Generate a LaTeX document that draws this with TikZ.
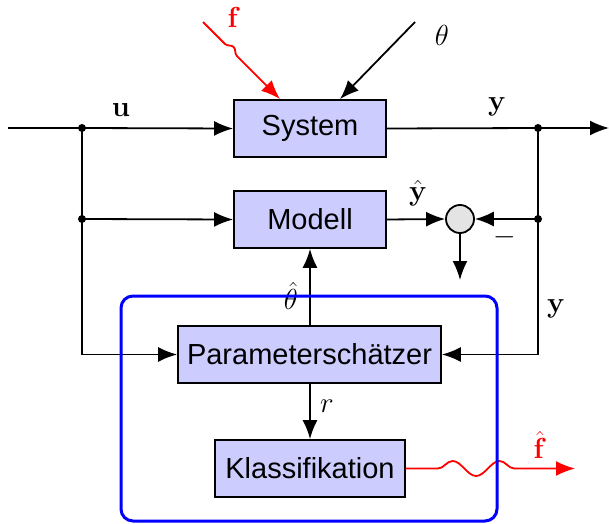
\documentclass[tikz,border=0pt]{standalone}
\usepackage{fix-cm}
\usepackage[no-math]{fontspec}
\setmainfont{Liberation Sans}
\usetikzlibrary{arrows.meta,decorations.pathmorphing,calc}
\definecolor{boxfill}{RGB}{204,204,255}
\definecolor{sumfill}{RGB}{228,228,228}
\begin{document}
\begin{tikzpicture}[x=1pt,y=1pt,
  blk/.style={draw,line width=1.8pt,fill=boxfill,minimum height=57pt,inner sep=0pt,font=\fontsize{29}{33}\selectfont},
  conn/.style={line width=1.8pt},
  arr/.style={conn,-{Latex[length=19pt,width=15pt]}},
  dotn/.style={circle,fill,inner sep=0pt,minimum size=8pt},
  lbl/.style={font=\fontsize{29}{34}\selectfont,inner sep=1pt},
  wig/.style={red,line width=1.8pt,decorate}]
\useasboundingbox (0,0) rectangle (609,523);
% blocks
\node[blk,minimum width=152pt] (sys) at (310,394.5) {System};
\node[blk,minimum width=152pt] (mod) at (310,303.5) {Modell};
\node[blk,minimum width=263pt] (par) at (309.5,168.5) {Parameterschätzer};
\node[blk,minimum width=190pt] (kla) at (310,54.5) {Klassifikation};
\node[circle,draw,line width=1.8pt,fill=sumfill,minimum size=28pt,inner sep=0pt] (sum) at (460,304) {};
% points
\coordinate (in) at (8,395);
\node[dotn] (d1) at (82,395) {};
\node[dotn] (d2) at (82,304) {};
\node[dotn] (d3) at (538,395) {};
\node[dotn] (d4) at (538,304) {};
\coordinate (out) at (609,395);
\coordinate (sumout) at (460,243);
\coordinate (fs) at (203,501);
\coordinate (ts) at (415,501);
\coordinate (fhat) at (575,54.5);
% connectors
\draw[conn] (in) -- (d1.center);
\draw[arr] (d1.center) -- (sys.west);
\draw[conn] (d1.center) -- (d2.center);
\draw[arr] (d2.center) -- (mod.west);
\draw[arr] (d2.center) |- (par.west);
\draw[conn] (sys.east) -- (d3.center);
\draw[arr] (d3.center) -- (out);
\draw[conn] (d3.center) -- (d4.center);
\draw[arr] (d4.center) -- (sum.east);
\draw[arr] (d4.center) |- (par.east);
\draw[arr] (mod.east) -- (sum.west);
\draw[arr] (sum.south) -- (sumout);
\draw[arr] (par.north -| mod.south) -- (mod.south);
\draw[arr] (par.south -| kla.north) -- (kla.north);
\draw[arr] (ts) -- ([xshift=30pt]sys.north);
\draw[wig,-{Latex[length=19pt,width=15pt]},decoration={snake,segment length=27pt,amplitude=4pt,pre length=31pt,post length=50pt}] (fs) -- ([xshift=-30pt]sys.north);
\draw[wig,-{Latex[length=19pt,width=15pt]},decoration={snake,segment length=47pt,amplitude=7.5pt,pre length=32pt,post length=45pt}] (kla.east) -- (fhat);
% labels
\node[lbl] (lu) at (121,413) {$\mathbf{u}$};
\node[lbl] (ly) at (497,416) {$\mathbf{y}$};
\node[lbl] (lyh) at (418,330) {$\hat{\mathbf{y}}$};
\node[lbl] (lm) at (505,286) {$-$};
\node[lbl] (ly2) at (556,214) {$\mathbf{y}$};
\node[lbl] (lth) at (291,227) {$\hat\theta$};
\node[lbl] (lr) at (327,117) {$r$};
\node[lbl,red] (lfh) at (540,78) {$\hat{\mathbf{f}}$};
\node[lbl,red] (lf) at (234,506) {$\mathbf{f}$};
\node[lbl] (lt) at (442,488) {$\theta$};
% blue frame
\draw[blue,line width=3pt,rounded corners=12pt] (121,2) rectangle (497,227);
\end{tikzpicture}
\end{document}
